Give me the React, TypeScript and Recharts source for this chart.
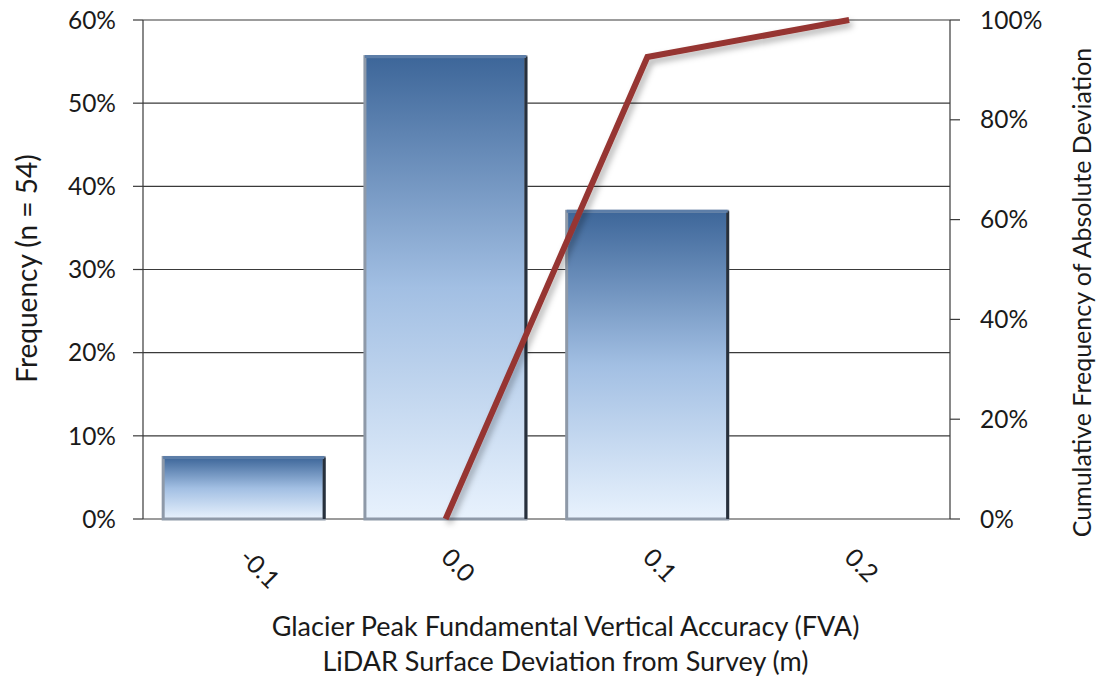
import {
  Bar,
  CartesianGrid,
  ComposedChart,
  Line,
  XAxis,
  YAxis,
} from "recharts";

// deviation bins (m)
const BINS = ["-0.1", "0.0", "0.1", "0.2"];
// frequency per bin, % of n = 54
const FREQ = [7.4, 55.6, 37.0, 0];
// cumulative frequency of absolute deviation, %
const CUM = [null, 0, 92.6, 100];

const LEFT_TICKS = [0, 10, 20, 30, 40, 50, 60];
const RIGHT_TICKS = [0, 20, 40, 60, 80, 100];
const EDGE_TICKS = [0, 1, 2, 3, 4];

const X_TITLE = [
  "Glacier Peak Fundamental Vertical Accuracy (FVA)",
  "LiDAR Surface Deviation from Survey (m)",
];

const data = BINS.map((b, i) => ({ bin: b, freq: FREQ[i], cum: CUM[i] }));

const FONT = "Lato, 'Open Sans', sans-serif";
const INK = "#1a1a1a";
const GRID = "#3a3a3a";

const pct = (v: number) => `${v}%`;

function BinTick({ x, y, payload }: any) {
  const tx = x - 6;
  const ty = y + 32;
  return (
    <text
      x={tx}
      y={ty}
      transform={`rotate(45 ${tx} ${ty})`}
      textAnchor="start"
      fontSize={25}
      fill={INK}
      fontFamily={FONT}
    >
      {payload.value}
    </text>
  );
}

// bevelled bar: light frame on left/bottom, dark edge on the right
function BevelBar({ x, y, width, height }: any) {
  if (!height || height <= 0) return <g />;
  return (
    <g>
      <rect x={x} y={y} width={width} height={height} fill="url(#barFill)" stroke="#8e99a8" strokeWidth={3} />
      <line x1={x + width} y1={y} x2={x + width} y2={y + height} stroke="#27303c" strokeWidth={3} />
      <line x1={x} y1={y} x2={x + width} y2={y} stroke="#5d7ea8" strokeWidth={3} />
    </g>
  );
}

function SideTitle({ viewBox, value, dx, dy, size }: any) {
  const cx = viewBox.x + dx;
  const cy = viewBox.y + viewBox.height / 2 + dy;
  return (
    <text
      x={cx}
      y={cy}
      transform={`rotate(-90 ${cx} ${cy})`}
      textAnchor="middle"
      dominantBaseline="central"
      fontSize={size}
      fill={INK}
      fontFamily={FONT}
    >
      {value}
    </text>
  );
}

function BottomTitle({ viewBox }: any) {
  const cx = viewBox.x + viewBox.width / 2 + 19;
  return (
    <text textAnchor="middle" fontSize={27} fill={INK} fontFamily={FONT}>
      {X_TITLE.map((t, i) => (
        <tspan key={i} x={cx} y={viewBox.y + 117 + i * 35}>
          {t}
        </tspan>
      ))}
    </text>
  );
}

export default function App() {
  return (
    <div
      style={{
        position: "absolute",
        top: 0,
        left: 0,
        width: 1099,
        height: 681,
        overflow: "hidden",
        background: "#fff",
        fontFamily: FONT,
      }}
    >
      <ComposedChart
        width={1099}
        height={681}
        data={data}
        margin={{ top: 20, right: 0, bottom: 82, left: 0 }}
        barCategoryGap="10%"
      >
        <defs>
          <linearGradient id="barFill" x1="0" y1="0" x2="0" y2="1">
            <stop offset="0%" stopColor="#3d6699" />
            <stop offset="50%" stopColor="#a2bfe3" />
            <stop offset="100%" stopColor="#e8f2fd" />
          </linearGradient>
          <filter id="lineShadow" x="-10%" y="-10%" width="120%" height="120%">
            <feDropShadow dx="3" dy="4" stdDeviation="3" floodColor="#000" floodOpacity="0.3" />
          </filter>
        </defs>
        <CartesianGrid vertical={false} stroke={GRID} strokeWidth={1.2} yAxisId="left" />
        <XAxis
          xAxisId="edges"
          type="number"
          domain={[0, 4]}
          ticks={EDGE_TICKS}
          height={0}
          stroke={GRID}
          strokeWidth={1.2}
          tickSize={10}
          tick={() => <g />}
        />
        <XAxis
          dataKey="bin"
          height={80}
          axisLine={false}
          tickLine={false}
          tick={<BinTick />}
          interval={0}
          label={<BottomTitle />}
        />
        <YAxis
          yAxisId="left"
          width={143}
          domain={[0, 60]}
          ticks={LEFT_TICKS}
          tickFormatter={pct}
          stroke={GRID}
          strokeWidth={1.2}
          tickSize={10}
          tickMargin={17}
          tick={{ fontSize: 24.5, fill: INK, fontFamily: FONT }}
          label={<SideTitle value="Frequency (n = 54)" dx={26} dy={-1} size={28} />}
        />
        <YAxis
          yAxisId="right"
          orientation="right"
          width={149}
          domain={[0, 100]}
          ticks={RIGHT_TICKS}
          tickFormatter={pct}
          stroke={GRID}
          strokeWidth={1.2}
          tickSize={10}
          tickMargin={20}
          tick={{ fontSize: 24.5, fill: INK, fontFamily: FONT }}
          label={<SideTitle value="Cumulative Frequency of Absolute Deviation" dx={131} dy={23} size={25} />}
        />
        <Bar
          yAxisId="left"
          dataKey="freq"
          shape={<BevelBar />}
          isAnimationActive={false}
        />
        <Line
          yAxisId="right"
          dataKey="cum"
          type="linear"
          stroke="#963633"
          strokeWidth={6}
          dot={false}
          activeDot={false}
          connectNulls={false}
          filter="url(#lineShadow)"
          isAnimationActive={false}
        />
      </ComposedChart>
    </div>
  );
}
